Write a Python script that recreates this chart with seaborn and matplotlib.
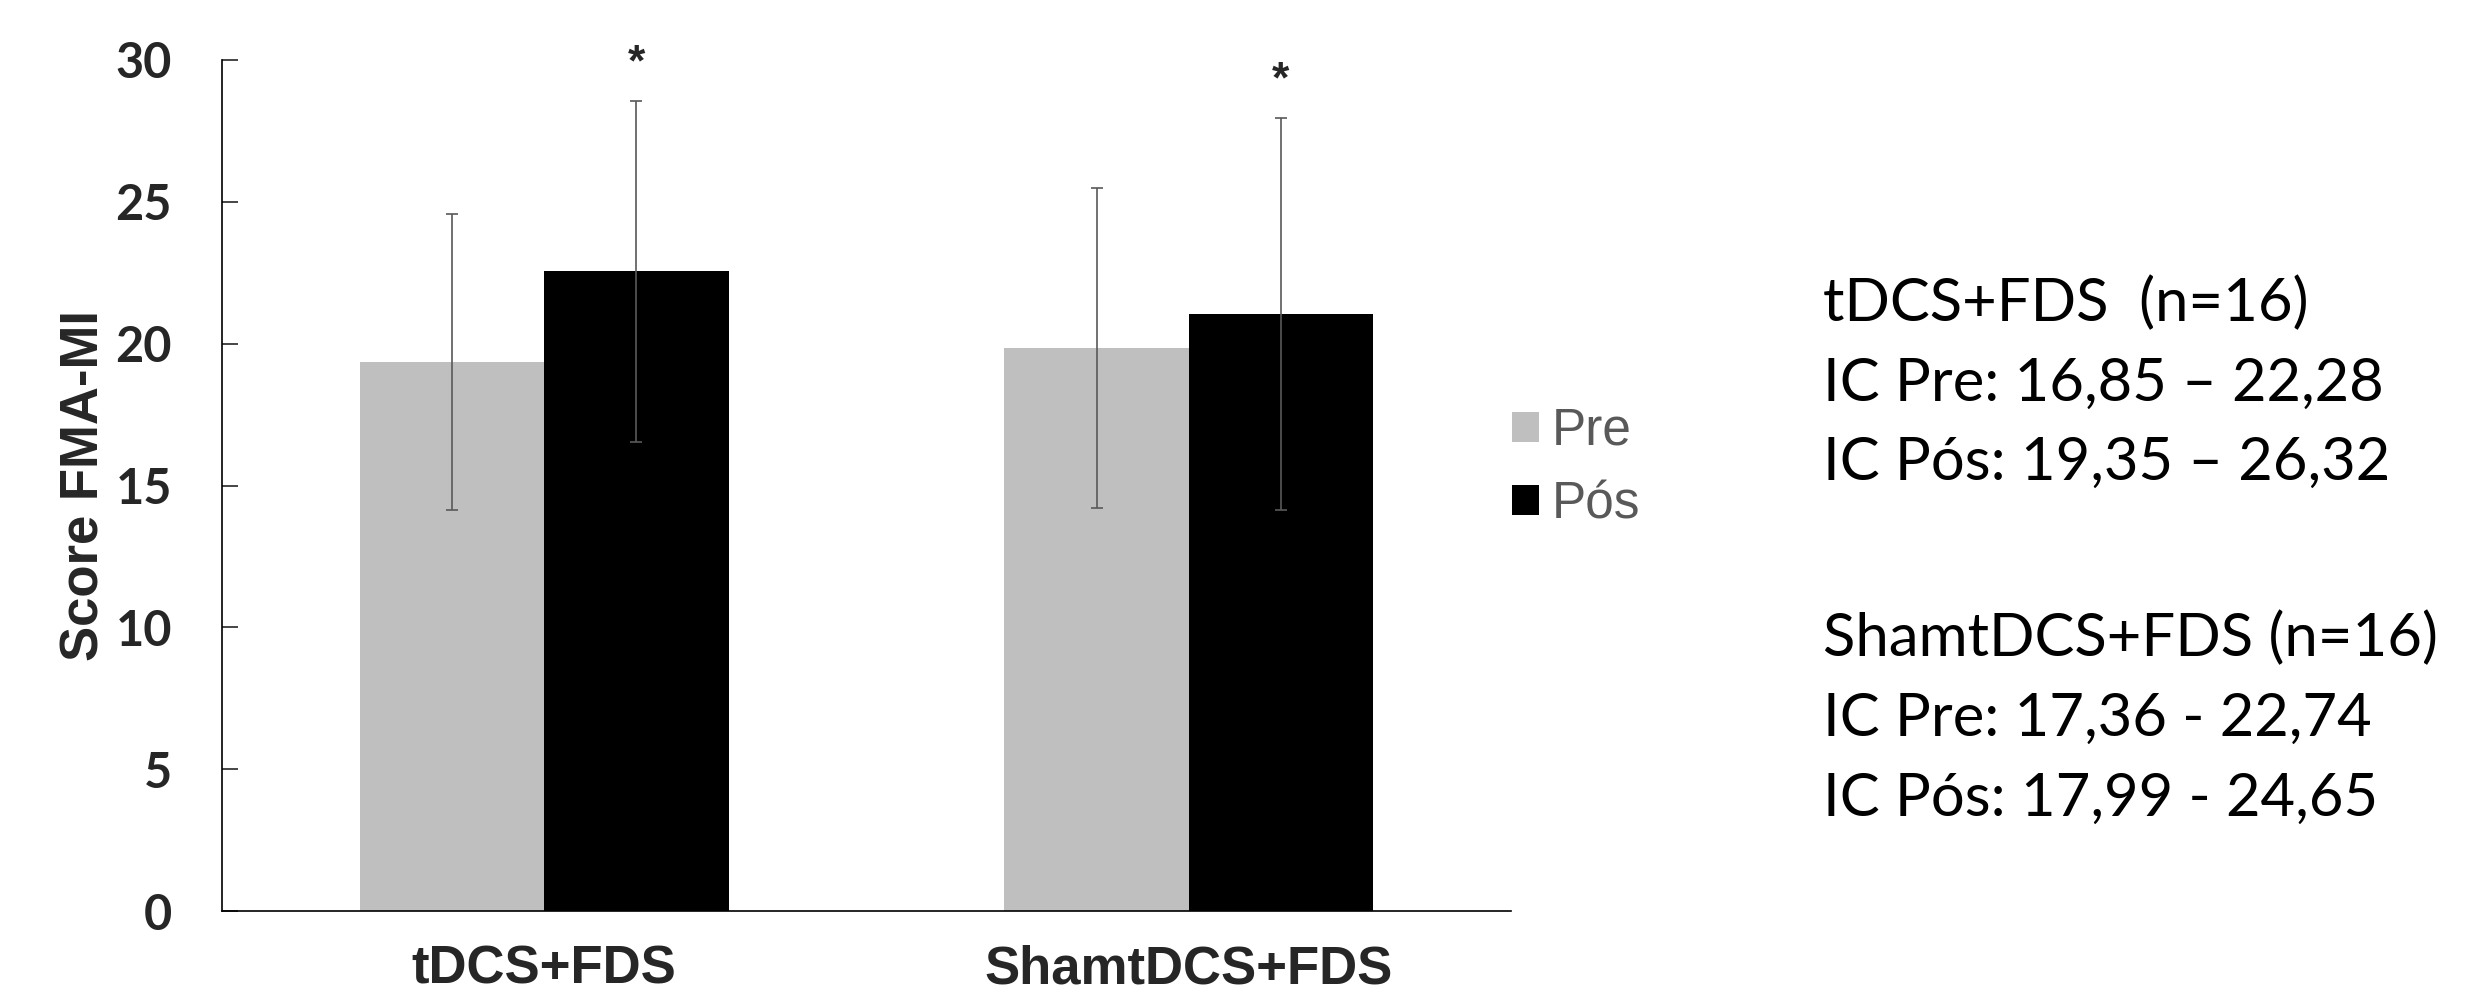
import pandas as pd
import seaborn as sns
import matplotlib.pyplot as plt

# data
groups = ["tDCS+FDS", "ShamtDCS+FDS"]
moments = ["Pre", "Pós"]
pre_mean = [19.35, 19.85]
pos_mean = [22.55, 21.05]
pre_sd = [5.23, 5.65]
pos_sd = [6.0, 6.9]
bar_colors = ["#bfbfbf", "#000000"]

ci_text = [
    "tDCS+FDS  (n=16)",
    "IC Pre: 16,85 \u2013 22,28",
    "IC Pós: 19,35 \u2013 26,32",
    "ShamtDCS+FDS (n=16)",
    "IC Pre: 17,36 - 22,74",
    "IC Pós: 17,99 - 24,65",
]


def build_frame():
    rows = []
    for g, pm, qm in zip(groups, pre_mean, pos_mean):
        rows.append({"group": g, "moment": moments[0], "score": pm})
        rows.append({"group": g, "moment": moments[1], "score": qm})
    return pd.DataFrame(rows)


def main():
    sns.set_style("ticks")
    plt.rcParams["font.family"] = ["Liberation Sans", "DejaVu Sans"]

    W, H = 2491, 998
    fig = plt.figure(figsize=(W / 100, H / 100), dpi=100)
    ax = fig.add_axes([222 / W, 1 - 911 / H, 1289 / W, 851 / H])

    df = build_frame()
    sns.barplot(data=df, x="group", y="score", hue="moment", order=groups,
                hue_order=moments, palette=bar_colors, saturation=1,
                width=0.572, errorbar=None, linewidth=0, ax=ax)

    # error bars and significance marks on top of the bars seaborn drew
    for cont, sds, mark in zip(ax.containers, [pre_sd, pos_sd], [False, True]):
        xs = [p.get_x() + p.get_width() / 2 for p in cont]
        ys = [p.get_height() for p in cont]
        ax.errorbar(xs, ys, yerr=sds, fmt="none", ecolor="#595959",
                    elinewidth=1.2, capsize=4, capthick=1.2, zorder=3)
        if mark:
            for x, y, s in zip(xs, ys, sds):
                ax.text(x, y + s + 1.3, "*", ha="center", va="center",
                        fontsize=32, fontweight="bold", clip_on=False)

    ax.set_xlim(-0.5, 1.5)
    ax.set_ylim(0, 30)
    ax.set_yticks(range(0, 31, 5))
    ax.set_xlabel("")
    ax.set_ylabel("Score FMA-MI", fontsize=38, fontweight="bold")
    ax.yaxis.set_label_coords(-0.087, 0.5)

    sns.despine(ax=ax)
    for side in ["left", "bottom"]:
        ax.spines[side].set_linewidth(1.2)
        ax.spines[side].set_color("black")

    ax.tick_params(axis="y", direction="in", length=11.5, width=1.2, pad=36)
    ax.tick_params(axis="x", length=0, pad=24)
    for lab in ax.get_yticklabels():
        lab.set_fontfamily("Lato")
        lab.set_fontweight("bold")
        lab.set_fontsize(35)
    for lab in ax.get_xticklabels():
        lab.set_fontweight("bold")
        lab.set_fontsize(38)

    sns.move_legend(ax, "center left", bbox_to_anchor=(1512 / W, 1 - 468 / H),
                    bbox_transform=fig.transFigure, frameon=False, title=None,
                    prop={"family": "Liberation Sans", "size": 37},
                    labelcolor="#595959", handlelength=0.525, handleheight=0.525,
                    handletextpad=0.25, labelspacing=0.47, borderpad=0,
                    borderaxespad=0)

    baselines = [321, 401, 480, 656, 736, 816]
    for line, b in zip(ci_text, baselines):
        fig.text(1823 / W, 1 - b / H, line, fontsize=43, family="Lato",
                 va="baseline", ha="left", color="black")

    fig.savefig("out.png", dpi=100)


if __name__ == "__main__":
    main()
